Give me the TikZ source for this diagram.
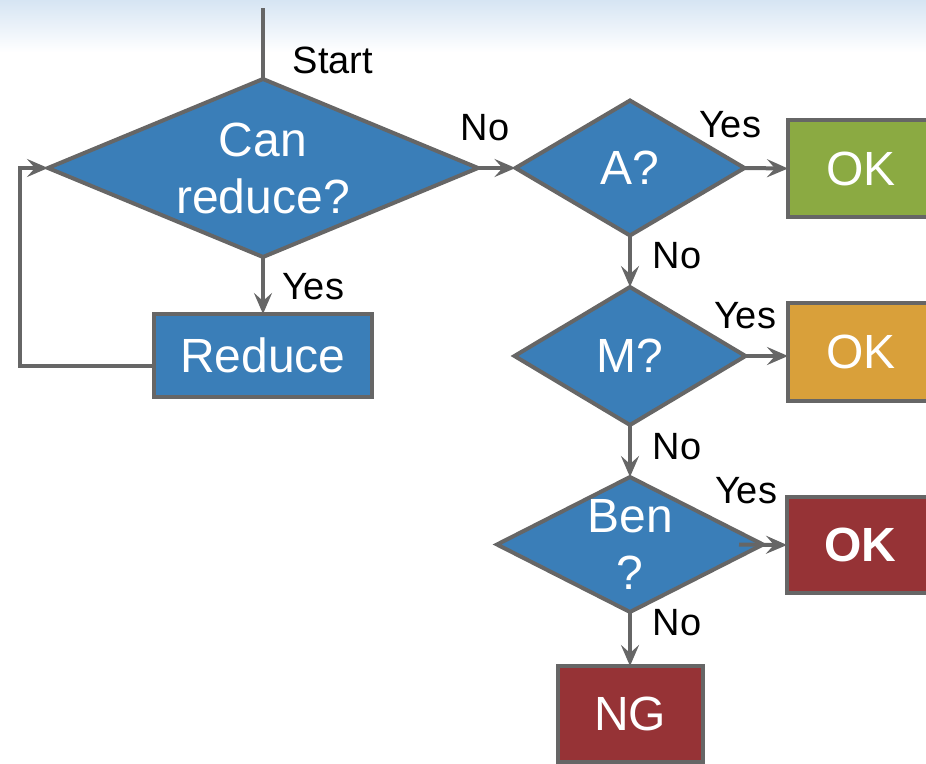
\documentclass[tikz,border=0pt]{standalone}
\usepackage{fontspec}
\setmainfont{Liberation Sans}
\usetikzlibrary{arrows.meta,shapes.geometric}

\definecolor{qblue}{HTML}{3A7EB8}
\definecolor{okgreen}{HTML}{8BAA42}
\definecolor{okorange}{HTML}{D9A03A}
\definecolor{okred}{HTML}{963336}
\definecolor{edgegray}{HTML}{666666}
\definecolor{headblue}{HTML}{D6E5F3}

\tikzset{
  decision/.style={diamond, draw=edgegray, line width=4, fill=qblue,
    inner sep=0, outer sep=0},
  boxnode/.style={rectangle, draw=edgegray, line width=4, inner sep=0,
    outer sep=0, text=white, font=\fontsize{48}{57}\selectfont},
  intext/.style={text=white, align=center, font=\fontsize{48}{57}\selectfont},
  lbl/.style={text=black, font=\fontsize{38}{44}\selectfont},
  conn/.style={draw=edgegray, line width=4},
  arr/.style={conn, -{Stealth[length=21, width=18, inset=8]}},
}

\begin{document}
\begin{tikzpicture}[x=1pt, y=-1pt]
  \useasboundingbox (0,0) rectangle (926,763);
  \clip (0,0) rectangle (926,763);

  % header band
  \shade[top color=headblue, bottom color=white] (0,0) rectangle (926,52);

  % decisions
  \node[decision, minimum width=430, minimum height=178] (big) at (263,168) {};
  \node[intext] at (big.center) {Can\\reduce?};
  \node[decision, minimum width=229, minimum height=135] (qa) at (630,168) {};
  \node[intext] at (qa.center) {A?};
  \node[decision, minimum width=231, minimum height=138] (qm) at (630,356) {};
  \node[intext] at (qm.center) {M?};
  \node[decision, minimum width=266, minimum height=135] (qben) at (630,544.5) {};
  \node[intext] at (qben.center) {Ben\\?};

  % actions and outcomes
  \node[boxnode, fill=qblue, minimum width=218, minimum height=83] (reduce) at (263,355.5) {Reduce};
  \node[boxnode, fill=okgreen, minimum width=146, minimum height=97] (oka) at (861,168.5) {OK};
  \node[boxnode, fill=okorange, minimum width=146, minimum height=98] (okm) at (861,352) {OK};
  \node[boxnode, fill=okred, minimum width=146, minimum height=96, font=\bfseries\fontsize{48}{57}\selectfont] (okben) at (860,545) {OK};
  \node[boxnode, fill=okred, minimum width=145, minimum height=96] (ng) at (630,714) {NG};

  % connectors
  \coordinate (start) at (263,8);
  \coordinate (loop) at (20,366);
  \draw[conn] (start) -- (big.north);
  \draw[arr] (big.south) -- (reduce.north);
  \draw[arr] (reduce.west |- loop) -- (loop) |- (big.west);
  \draw[arr] (big.east) -- (qa.west);
  \draw[arr] (qa.east) -- (oka.west);
  \draw[arr] (qa.south) -- (qm.north);
  \draw[arr] (qm.east) -- (okm.west |- qm.east);
  \draw[arr] (qm.south) -- (qben.north);
  \draw[arr] ([xshift=-24]qben.east) -- (okben.west);
  \draw[arr] (qben.south) -- (ng.north);

  % labels
  \node[lbl] (lstart) at (333,60) {Start};
  \node[lbl] (lyes1) at (313,287) {Yes};
  \node[lbl] (lno1) at (485,128) {No};
  \node[lbl] (lyesa) at (730,125) {Yes};
  \node[lbl] (lnoa) at (677,256) {No};
  \node[lbl] (lyesm) at (745,316) {Yes};
  \node[lbl] (lnom) at (677,447) {No};
  \node[lbl] (lyesb) at (746,491) {Yes};
  \node[lbl] (lnob) at (677,623) {No};
\end{tikzpicture}
\end{document}
